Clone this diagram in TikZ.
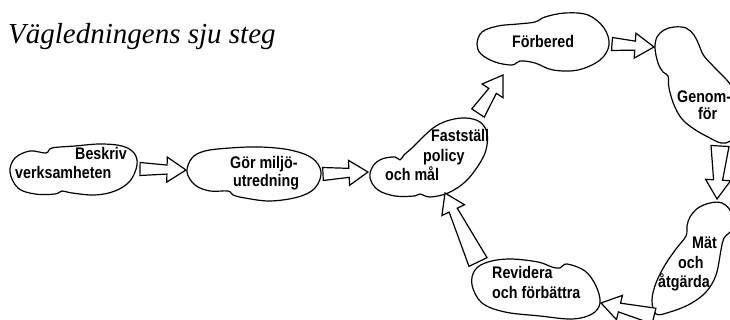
\documentclass[tikz,border=0pt]{standalone}
\usepackage{fontspec}
\usepackage{tikz}
\usetikzlibrary{calc}
\setmainfont{Liberation Serif}
\newfontfamily\stepfont{Liberation Sans}[FakeStretch=0.85]

\tikzset{
  blob/.style={draw, line width=1.2pt, line join=round},
  arrowbody/.style={draw, line width=1.2pt, line join=miter, fill=white},
  steptext/.style={anchor=base west, inner sep=0pt, font=\stepfont\bfseries\fontsize{16.8}{19}\selectfont},
  titletext/.style={anchor=base west, inner sep=0pt, font=\itshape\fontsize{29}{30}\selectfont}
}

\newcommand{\steparrow}[3][6.5pt]{%
  \coordinate (#2n) at ($(#3)!19pt!(#2)$);
  \draw[arrowbody] ($(#2)!#1!90:(#3)$) -- ($(#2n)!4.5pt!90:(#3)$) -- ($(#2n)!12.5pt!90:(#3)$) -- (#3)
    -- ($(#2n)!12.5pt!-90:(#3)$) -- ($(#2n)!4.5pt!-90:(#3)$) -- ($(#2)!#1!-90:(#3)$) -- cycle;
}

\begin{document}
\begin{tikzpicture}[x=1pt, y=-1pt]
\path[use as bounding box, fill=white] (0, 0) rectangle (730, 320);
\clip (0, 0) rectangle (730, 320);

\node[titletext] (title) at (8, 44) {Vägledningens sju steg};

\draw[blob] plot[smooth cycle, tension=0.6] coordinates {(10,172) (15,158) (30,151) (46,153) (52,148) (75,146) (100,144) (122,146) (134,153) (137,165) (130,181) (115,191) (95,195) (72,193) (62,191) (55,194) (35,194) (18,188)};
\draw[blob] plot[smooth cycle, tension=0.6] coordinates {(187,172) (192,158) (205,151) (230,148) (260,147) (290,150) (312,158) (321,172) (315,188) (298,197) (270,201) (245,198) (233,195) (228,191) (210,191) (195,185)};
\draw[blob] plot[smooth cycle, tension=0.6] coordinates {(370,178) (373,166) (382,159) (395,157) (400,160) (404,155) (413,147) (424,136) (436,126) (450,120) (466,118) (480,122) (487,133) (486,150) (478,166) (465,182) (448,193) (430,197) (420,194) (414,196) (395,196) (378,190)};
\draw[blob] plot[smooth cycle, tension=0.6] coordinates {(477,44) (482,32) (498,26) (518,24) (535,22) (545,17) (565,13) (588,15) (604,28) (609,45) (600,60) (578,70) (553,70) (535,63) (520,61) (512,65) (495,62) (481,54)};
\draw[blob] plot[smooth cycle, tension=0.6] coordinates {(655,48) (657,37) (664,30) (674,27) (686,28) (694,35) (699,45) (704,56) (716,69) (730,84) (742,105) (742,130) (730,141) (721,143) (708,137) (694,129) (682,119) (674,105) (669,88) (668,76) (663,72) (658,63)};
\draw[blob] plot[smooth cycle, tension=0.6] coordinates {(690,217) (698,208) (710,203) (722,203) (731,212) (733,228) (724,238) (721,250) (716,275) (706,292) (690,304) (670,312) (656,314) (652,300) (656,283) (665,265) (676,249) (686,236) (687,226)};
\draw[blob] plot[smooth cycle, tension=0.6] coordinates {(472,285) (475,270) (488,262) (510,259) (538,262) (552,267) (560,268) (567,264) (585,271) (596,286) (600,303) (592,314) (572,319) (540,316) (505,312) (482,303)};

\node[steptext] (beskriv) at (75, 160) {Beskriv};
\node[steptext] (verksamheten) at (15, 179) {verksamheten};
\node[steptext] (gor) at (230, 169) {Gör miljö-};
\node[steptext] (utredning) at (233, 187) {utredning};
\node[steptext] (faststall) at (431, 142) {Fastställ};
\node[steptext] (policy) at (423, 162) {policy};
\node[steptext] (ochmal) at (385, 181) {och mål};
\node[steptext] (forbered) at (512, 48) {Förbered};
\node[steptext] (genom) at (677, 103) {Genom-};
\node[steptext] (genomfor) at (698, 120) {för};
\node[steptext] (mat) at (692, 248) {Mät};
\node[steptext] (matoch) at (678, 268) {och};
\node[steptext] (atgarda) at (658, 287) {åtgärda};
\node[steptext] (revidera) at (492, 278) {Revidera};
\node[steptext] (forbattra) at (492, 298) {och förbättra};

\coordinate (a1s) at (140, 169); \coordinate (a1e) at (186, 170);
\coordinate (a2s) at (323, 174); \coordinate (a2e) at (368, 172);
\coordinate (a3s) at (478, 113); \coordinate (a3e) at (503, 75);
\coordinate (a4s) at (612, 44); \coordinate (a4e) at (654, 47);
\coordinate (a5s) at (720, 146); \coordinate (a5e) at (717, 199);
\coordinate (a6s) at (654, 316); \coordinate (a6e) at (601, 303);
\coordinate (a7s) at (478, 262); \coordinate (a7e) at (445, 193);

\steparrow{a1s}{a1e}
\steparrow{a2s}{a2e}
\steparrow[7.5pt]{a3s}{a3e}
\steparrow{a4s}{a4e}
\steparrow[9pt]{a5s}{a5e}
\steparrow[8pt]{a6s}{a6e}
\steparrow[10pt]{a7s}{a7e}

\end{tikzpicture}
\end{document}
